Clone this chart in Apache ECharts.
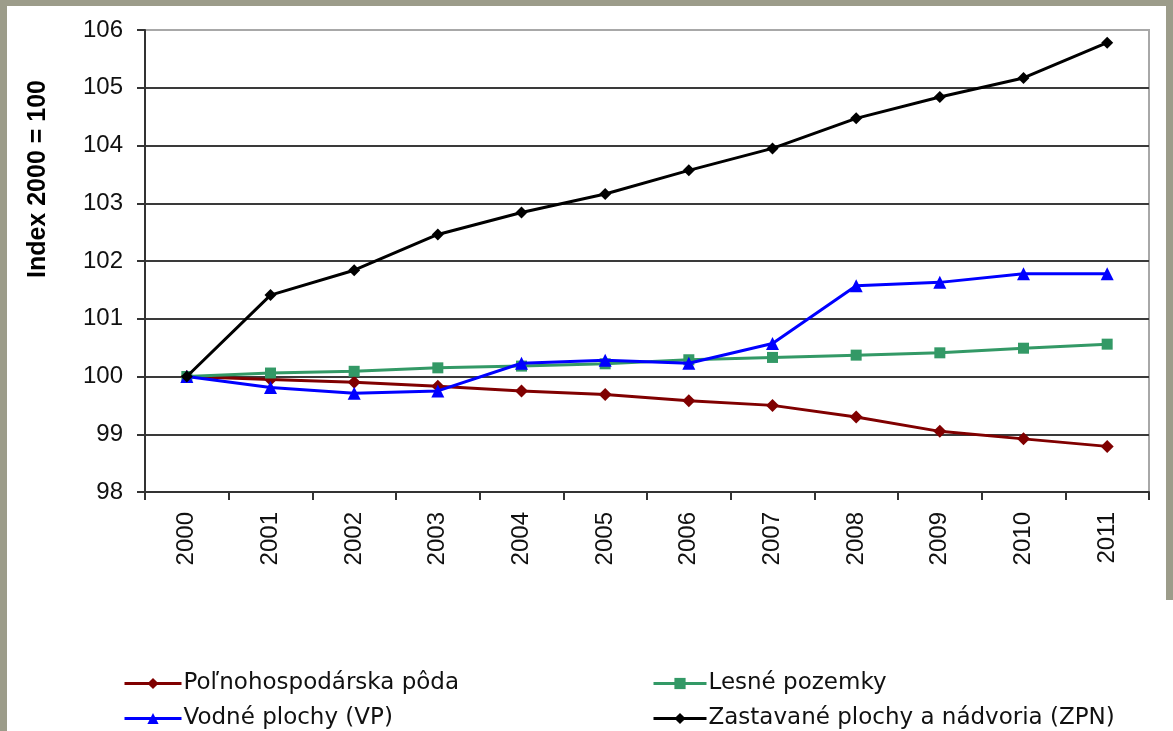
<!DOCTYPE html>
<html>
<head>
<meta charset="utf-8">
<script src="https://cdn.jsdelivr.net/npm/echarts@6/dist/echarts.min.js"></script>
<style>
  html, body { margin: 0; padding: 0; background: #fff; }
  #chart1 { width: 1173px; height: 731px; }
</style>
</head>
<body>
<div id="chart1"></div>
<script>
// roky
var years = ['2000', '2001', '2002', '2003', '2004', '2005', '2006', '2007', '2008', '2009', '2010', '2011'];
// Index 2000 = 100
var polnohospodarska = [100, 99.95, 99.9, 99.83, 99.75, 99.69, 99.58, 99.5, 99.3, 99.05, 98.92, 98.79];
var lesne = [100, 100.06, 100.09, 100.15, 100.18, 100.22, 100.29, 100.33, 100.37, 100.41, 100.49, 100.56];
var vodne = [100, 99.81, 99.71, 99.75, 100.23, 100.28, 100.23, 100.57, 101.57, 101.63, 101.78, 101.78];
var zastavane = [100, 101.41, 101.84, 102.46, 102.84, 103.16, 103.57, 103.95, 104.47, 104.84, 105.17, 105.78];
var names = ['Poľnohospodárska pôda', 'Lesné pozemky', 'Vodné plochy (VP)', 'Zastavané plochy a nádvoria (ZPN)'];

var font = 'Liberation Sans, Arial, sans-serif';
var frame = '#9c9c8a';

// jedna legenda pre kazdu polozku (2 stlpce x 2 riadky)
function legendItem(name, left, top, w) {
    return {
        data: [name],
        left: left,
        top: top,
        itemWidth: w,
        itemHeight: 14,
        itemGap: 0,
        padding: 0,
        lineStyle: { width: 3 },
        itemStyle: { borderWidth: 0 },
        textStyle: { color: '#111', fontSize: 23, fontFamily: 'DejaVu Sans, sans-serif', padding: [0, 0, 0, -3] }
    };
}

var option = {
    backgroundColor: '#fff',
    animation: false,
    grid: {
        left: 145,
        top: 30,
        right: 24,
        bottom: 239,
        show: true,
        borderColor: '#a8a8a8',
        borderWidth: 2
    },
    xAxis: {
        type: 'category',
        data: years,
        boundaryGap: true,
        axisLine: { lineStyle: { color: '#333', width: 2 } },
        axisTick: { show: true, length: 8, lineStyle: { color: '#333', width: 2 } },
        axisLabel: {
            rotate: 90,
            margin: 20,
            color: '#111',
            fontSize: 24,
            fontFamily: font
        },
        splitLine: { show: false }
    },
    yAxis: {
        type: 'value',
        min: 98,
        max: 106,
        interval: 1,
        axisLine: { show: true, lineStyle: { color: '#333', width: 2 } },
        axisTick: { show: true, length: 8, lineStyle: { color: '#333', width: 2 } },
        axisLabel: {
            margin: 22,
            color: '#111',
            fontSize: 24,
            fontFamily: font
        },
        splitLine: {
            show: true,
            showMaxLine: false,
            lineStyle: { color: '#3a3a3a', width: 2 }
        }
    },
    legend: [
        legendItem(names[0], 123, 672, 57),
        legendItem(names[2], 123, 707, 57),
        legendItem(names[1], 652, 672, 53),
        legendItem(names[3], 652, 707, 53)
    ],
    graphic: [
        { type: 'rect', left: 0, top: 0, shape: { width: 1173, height: 6 }, style: { fill: frame }, silent: true },
        { type: 'rect', left: 0, top: 0, shape: { width: 7, height: 731 }, style: { fill: frame }, silent: true },
        { type: 'rect', left: 1166, top: 0, shape: { width: 7, height: 600 }, style: { fill: frame }, silent: true },
        {
            type: 'text',
            left: 26,
            top: 80,
            rotation: Math.PI / 2,
            style: {
                text: 'Index 2000 = 100',
                fill: '#000',
                font: 'bold 25px ' + font
            }
        }
    ],
    series: [{
        name: names[0],
        type: 'line',
        data: polnohospodarska,
        symbol: 'diamond',
        symbolSize: 13,
        color: '#800000',
        lineStyle: { width: 3 },
        z: 2
    }, {
        name: names[1],
        type: 'line',
        data: lesne,
        symbol: 'rect',
        symbolSize: 11,
        color: '#339966',
        lineStyle: { width: 3 },
        z: 3
    }, {
        name: names[2],
        type: 'line',
        data: vodne,
        symbol: 'triangle',
        symbolSize: 13,
        color: '#0000ff',
        lineStyle: { width: 3 },
        z: 4
    }, {
        name: names[3],
        type: 'line',
        data: zastavane,
        symbol: 'diamond',
        symbolSize: 12,
        color: '#000000',
        lineStyle: { width: 3 },
        z: 5
    }]
};

var myChart = echarts.init(document.getElementById('chart1'));
myChart.setOption(option);
</script>
</body>
</html>
